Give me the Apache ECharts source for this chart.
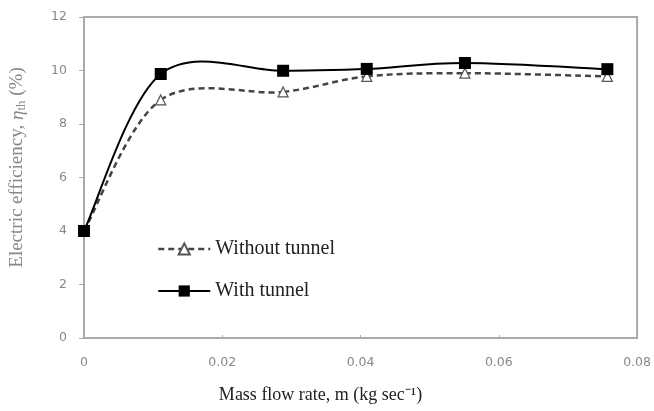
<!DOCTYPE html>
<html>
<head>
<meta charset="utf-8">
<script src="https://cdn.jsdelivr.net/npm/echarts@6/dist/echarts.min.js"></script>
<style>html,body{margin:0;padding:0;background:#fff}#c{width:654px;height:411px}</style>
</head>
<body>
<div id="c"></div>
<script>
const flowRates = [0, 0.0111, 0.0288, 0.0409, 0.0551, 0.0757];
const withoutTunnel = [4.0, 8.9, 9.2, 9.78, 9.9, 9.78];
const withTunnel = [4.0, 9.87, 9.99, 10.06, 10.28, 10.05];
const xTicks = [0, 0.02, 0.04, 0.06, 0.08];
const yTicks = [0, 2, 4, 6, 8, 10, 12];

const chart = echarts.init(document.getElementById('c'));
const pairs = arr => flowRates.map((x, i) => [x, arr[i]]);

// Excel-like smoothed curve (Catmull-Rom through the data points), positioned via the axes
function smoothCurve(values, style) {
  return function (params, api) {
    if (params.dataIndex !== 0) return null;
    const p = flowRates.map((x, i) => api.coord([x, values[i]]));
    const n = p.length, t = 1 / 6, children = [];
    for (let i = 0; i < n - 1; i++) {
      const a = p[i > 0 ? i - 1 : i], b = p[i], c = p[i + 1], d = p[i + 2 < n ? i + 2 : i + 1];
      children.push({
        type: 'bezierCurve',
        shape: {
          x1: b[0], y1: b[1], x2: c[0], y2: c[1],
          cpx1: b[0] + (c[0] - a[0]) * t, cpy1: b[1] + (c[1] - a[1]) * t,
          cpx2: c[0] - (d[0] - b[0]) * t, cpy2: c[1] - (d[1] - b[1]) * t
        },
        style: Object.assign({ fill: null }, style)
      });
    }
    return { type: 'group', children };
  };
}

const dashedStyle = { color: '#444', width: 2.5, type: [6, 4], opacity: 1 };
const solidStyle = { color: '#000', width: 2, type: 'solid', opacity: 1 };

chart.setOption({
  animation: false,
  backgroundColor: '#fff',
  grid: { left: 83, right: 16, top: 17, bottom: 73, show: true, borderColor: '#aaa', borderWidth: 2 },
  legend: {
    orient: 'vertical', left: 152, top: 234, itemWidth: 52, itemHeight: 14, itemGap: 22,
    textStyle: { fontFamily: 'Liberation Serif', fontSize: 20, color: '#222' },
    data: [
      { name: 'Without tunnel', lineStyle: dashedStyle },
      { name: 'With tunnel', lineStyle: solidStyle }
    ]
  },
  xAxis: {
    type: 'value', min: 0, max: 0.08, interval: 0.02,
    name: 'Mass flow rate, m (kg sec⁻¹)', nameLocation: 'middle', nameGap: 48,
    nameTextStyle: { fontFamily: 'Liberation Serif', fontSize: 18, color: '#222', padding: [0, 80, 0, 0] },
    axisLine: { lineStyle: { color: '#aaa', width: 2 } },
    axisTick: { show: true, length: 3, inside: true, lineStyle: { color: '#aaa' } },
    axisLabel: { color: '#888', fontFamily: 'DejaVu Sans', fontSize: 12.5, margin: 18,
      formatter: v => xTicks.includes(+v.toFixed(2)) ? String(+v.toFixed(2)) : '' },
    splitLine: { show: false }
  },
  yAxis: {
    type: 'value', min: 0, max: 12, interval: 2,
    name: '{a|Electric efficiency, }{b|η}{s|th}{a| (%)}', nameLocation: 'middle', nameGap: 56,
    nameTextStyle: { padding: [0, 0, 0, 20], rich: {
      a: { fontFamily: 'Liberation Serif', fontSize: 19, color: '#888' },
      b: { fontFamily: 'Liberation Serif', fontSize: 19, fontStyle: 'italic', color: '#888' },
      s: { fontFamily: 'Liberation Serif', fontSize: 13, color: '#888', padding: [8, 0, 0, 0] }
    } },
    axisLine: { show: true, lineStyle: { color: '#aaa', width: 2 } },
    axisTick: { show: true, length: 5, lineStyle: { color: '#aaa' } },
    axisLabel: { color: '#888', fontFamily: 'DejaVu Sans', fontSize: 12.5, margin: 17,
      formatter: v => yTicks.includes(v) ? String(v) : '' },
    splitLine: { show: false }
  },
  series: [
    {
      name: 'Without tunnel', type: 'line', data: pairs(withoutTunnel),
      symbol: 'triangle', symbolSize: 10,
      lineStyle: { color: '#444', width: 2.5, opacity: 0 },
      itemStyle: { color: '#fff', borderColor: '#555', borderWidth: 1.2 },
      z: 4
    },
    {
      name: 'With tunnel', type: 'line', data: pairs(withTunnel),
      symbol: 'rect', symbolSize: 12,
      lineStyle: { color: '#000', width: 2, opacity: 0 },
      itemStyle: { color: '#000' },
      z: 5
    },
    {
      name: 'Without tunnel curve', type: 'custom', data: pairs(withoutTunnel),
      renderItem: smoothCurve(withoutTunnel, { stroke: '#444', lineWidth: 2.5, lineDash: [6, 4] }),
      z: 2, silent: true
    },
    {
      name: 'With tunnel curve', type: 'custom', data: pairs(withTunnel),
      renderItem: smoothCurve(withTunnel, { stroke: '#000', lineWidth: 2 }),
      z: 3, silent: true
    }
  ]
});
</script>
</body>
</html>
